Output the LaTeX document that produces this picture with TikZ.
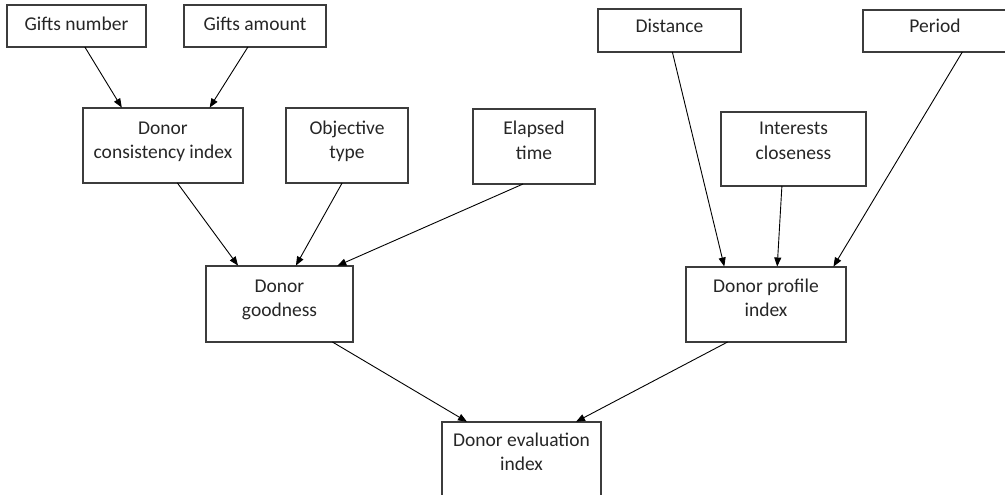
\documentclass[tikz,border=0pt]{standalone}
\usepackage{fontspec}
\setmainfont{Carlito}
\usetikzlibrary{arrows.meta,calc}

% centred lines whose reference point is the baseline of the first line
\newcommand{\stacklines}[1]{\vtop{\halign{\hfil##\hfil\cr#1\crcr}}}

\definecolor{inkgray}{HTML}{262626}
\definecolor{framegray}{HTML}{3C3C3C}

\tikzset{
  box/.style={draw=framegray, line width=1.1pt, rectangle, inner xsep=2pt,
    inner ysep=0pt, outer sep=0pt, text=inkgray,
    font=\fontsize{19.5}{24.5}\selectfont},
  link/.style={draw=black, line width=0.9pt,
    -{Triangle[length=9pt,width=7pt]}, shorten >=0.5pt}
}

\begin{document}
\begin{tikzpicture}[x=1pt,y=-1pt]
  \useasboundingbox (0,0) rectangle (1005,495);

  % inputs, top row
  \node[box, minimum width=139pt, text height=26pt, text depth=16pt] (gn) at (76.5,26) {\stacklines{Gifts number}};
  \node[box, minimum width=142pt, text height=26pt, text depth=16pt] (ga) at (255,26) {\stacklines{Gifts amount}};
  \node[box, minimum width=143pt, text height=24pt, text depth=19pt] (dist) at (669.5,30.5) {\stacklines{Distance}};
  \node[box, minimum width=144pt, text height=23pt, text depth=19pt] (per) at (935,31) {\stacklines{Period}};

  % second row
  \node[box, minimum width=160pt, text height=26pt, text depth=49pt] (dci) at (163,145.5) {\stacklines{Donor\cr consistency index}};
  \node[box, minimum width=122pt, text height=26pt, text depth=49pt] (ot) at (347,145.5) {\stacklines{Objective\cr type}};
  \node[box, minimum width=122pt, text height=26pt, text depth=49pt] (et) at (534,146.5) {\stacklines{Elapsed\cr time}};
  \node[box, minimum width=145pt, text height=23pt, text depth=51pt] (ic) at (793.5,149) {\stacklines{Interests\cr closeness}};

  % intermediate indices
  \node[box, minimum width=147pt, text height=26pt, text depth=50pt] (dg) at (279.5,304) {\stacklines{Donor\cr goodness}};
  \node[box, minimum width=160pt, text height=25pt, text depth=50pt] (dpi) at (766,304.5) {\stacklines{Donor profile\cr index}};

  % final index
  \node[box, minimum width=159pt, text height=24pt, text depth=54pt] (dei) at (521.5,461) {\stacklines{Donor evaluation\cr index}};

  % connectors
  \draw[link] ($(gn.south west)!0.56!(gn.south east)$) -- ($(dci.north west)!0.244!(dci.north east)$);
  \draw[link] ($(ga.south west)!0.45!(ga.south east)$) -- ($(dci.north west)!0.79!(dci.north east)$);
  \draw[link] ($(dci.south west)!0.59!(dci.south east)$) -- ($(dg.north west)!0.22!(dg.north east)$);
  \draw[link] ($(ot.south west)!0.46!(ot.south east)$) -- ($(dg.north west)!0.61!(dg.north east)$);
  \draw[link] ($(et.south west)!0.41!(et.south east)$) -- ($(dg.north west)!0.89!(dg.north east)$);
  \draw[link] ($(dist.south west)!0.52!(dist.south east)$) -- ($(dpi.north west)!0.24!(dpi.north east)$);
  \draw[link] ($(ic.south west)!0.42!(ic.south east)$) -- ($(dpi.north west)!0.57!(dpi.north east)$);
  \draw[link] ($(per.south west)!0.69!(per.south east)$) -- ($(dpi.north west)!0.92!(dpi.north east)$);
  \draw[link] ($(dg.south west)!0.86!(dg.south east)$) -- ($(dei.north west)!0.16!(dei.north east)$);
  \draw[link] ($(dpi.south west)!0.26!(dpi.south east)$) -- ($(dei.north west)!0.84!(dei.north east)$);
\end{tikzpicture}
\end{document}
